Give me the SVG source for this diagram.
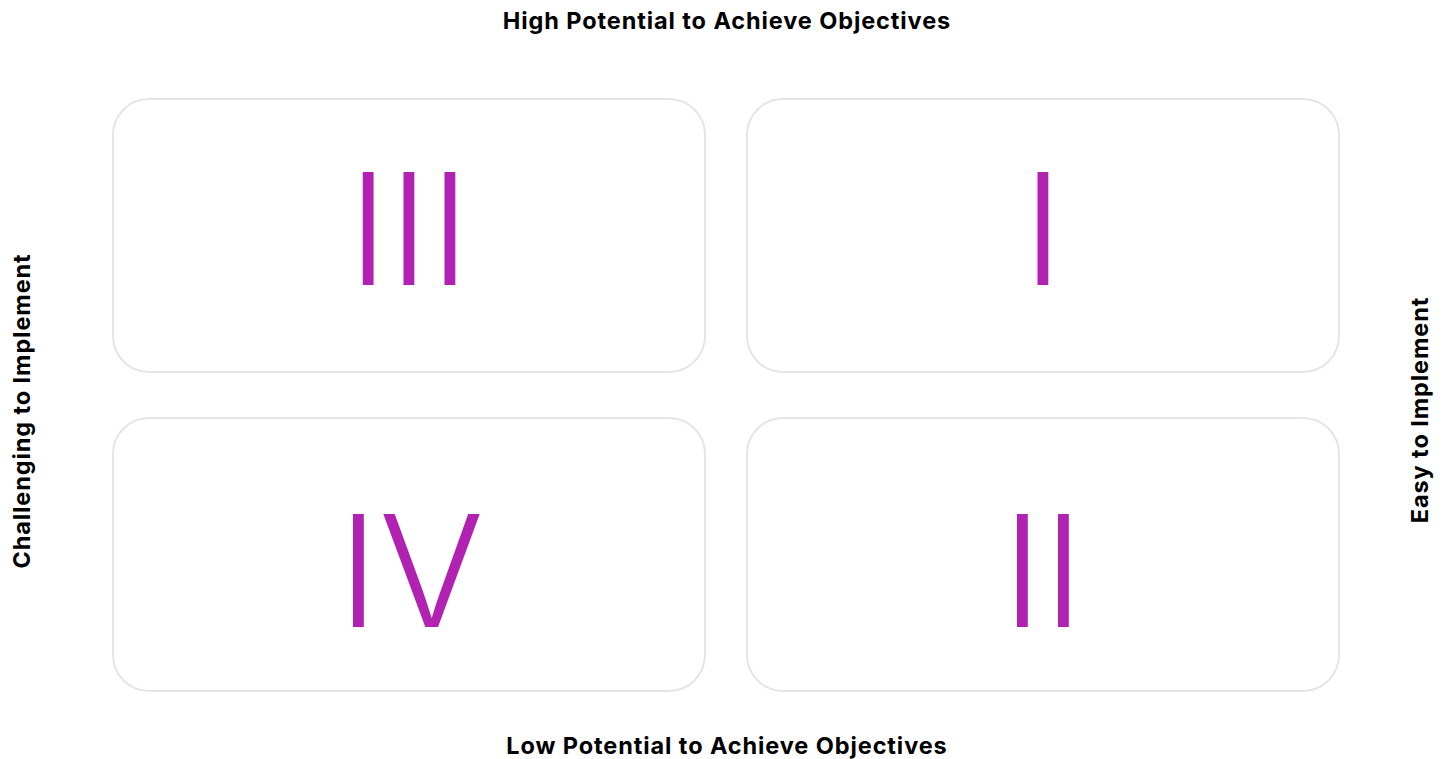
<svg xmlns="http://www.w3.org/2000/svg" width="1450" height="759" viewBox="0 0 1450 759">
<style>
.box{fill:#fff;stroke:#e5e5e5;stroke-width:2}
.num{font-family:Inter,"Liberation Sans",sans-serif;font-weight:300;font-size:156px;fill:#b222b2;text-anchor:middle}
.lbl{font-family:Inter,"Liberation Sans",sans-serif;font-weight:700;font-size:23.5px;letter-spacing:0.9px;fill:#000;text-anchor:middle}
</style>
<rect width="1450" height="759" fill="#fff"/>
<g id="q3"><rect class="box" x="113" y="99" width="592" height="273" rx="36"/><text class="num" x="409" y="285">III</text></g>
<g id="q1"><rect class="box" x="747" y="99" width="592" height="273" rx="36"/><text class="num" x="1043" y="285">I</text></g>
<g id="q4"><rect class="box" x="113" y="418" width="592" height="273" rx="36"/><text class="num" x="411" y="627">IV</text></g>
<g id="q2"><rect class="box" x="747" y="418" width="592" height="273" rx="36"/><text class="num" x="1043" y="627">II</text></g>
<g id="labels">
<text class="lbl" x="727" y="29">High Potential to Achieve Objectives</text>
<text class="lbl" x="727" y="754">Low Potential to Achieve Objectives</text>
<text class="lbl" transform="translate(30,411) rotate(-90)">Challenging to Implement</text>
<text class="lbl" transform="translate(1428,410) rotate(-90)">Easy to Implement</text>
</g>
<g id="connectors"></g>
</svg>
